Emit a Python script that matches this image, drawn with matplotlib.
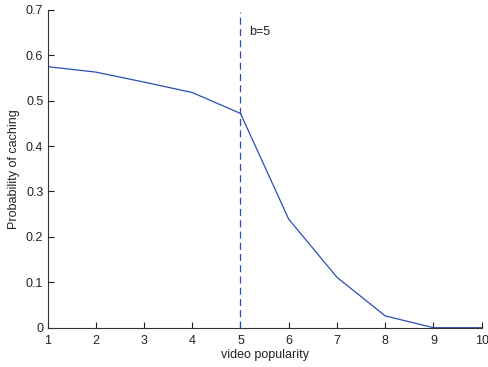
import numpy as np
import matplotlib
matplotlib.use('Agg')
import matplotlib.pyplot as plt

popularity = [1, 2, 3, 4, 5, 6, 7, 8, 9, 10]
prob_caching = [0.575, 0.563, 0.541, 0.518, 0.472, 0.239, 0.111, 0.026, 0.0, 0.0]
b = 5

plt.rcParams['font.family'] = ['Liberation Sans', 'DejaVu Sans']
plt.rcParams['font.size'] = 9

fig = plt.figure(figsize=(4.88, 3.67), dpi=100)
ax = fig.add_axes([47.5/488, 1 - 327.7/367, (481.7-47.5)/488, (327.7-9.9)/367])

line_color = '#2b4db5'
ax.plot(popularity, prob_caching, color=line_color, lw=0.9)
ax.axvline(b, ymin=0, ymax=0.992, color=line_color, lw=0.9, ls=(0, (5.6, 3.4)))
ax.text(5.18, 0.651, 'b=%d' % b, fontsize=9, va='center', ha='left', color='#222222')

ax.set_xlim(1, 10)
ax.set_ylim(0, 0.7)
ax.set_xticks(range(1, 11))
ax.set_yticks(np.arange(0, 0.71, 0.1))
ax.set_yticklabels(['0', '0.1', '0.2', '0.3', '0.4', '0.5', '0.6', '0.7'])
ax.tick_params(direction='in', length=4, width=0.8, colors='#222222', pad=3)
ax.tick_params(axis='x', pad=5)
for s in ['top', 'right']:
    ax.spines[s].set_visible(False)
for s in ['left', 'bottom']:
    ax.spines[s].set_color('#333333')
    ax.spines[s].set_linewidth(0.8)

ax.set_xlabel('video popularity', labelpad=2, color='#222222')
ax.set_ylabel('Probability of caching', labelpad=4, color='#222222')

fig.savefig('out.png', dpi=100)
